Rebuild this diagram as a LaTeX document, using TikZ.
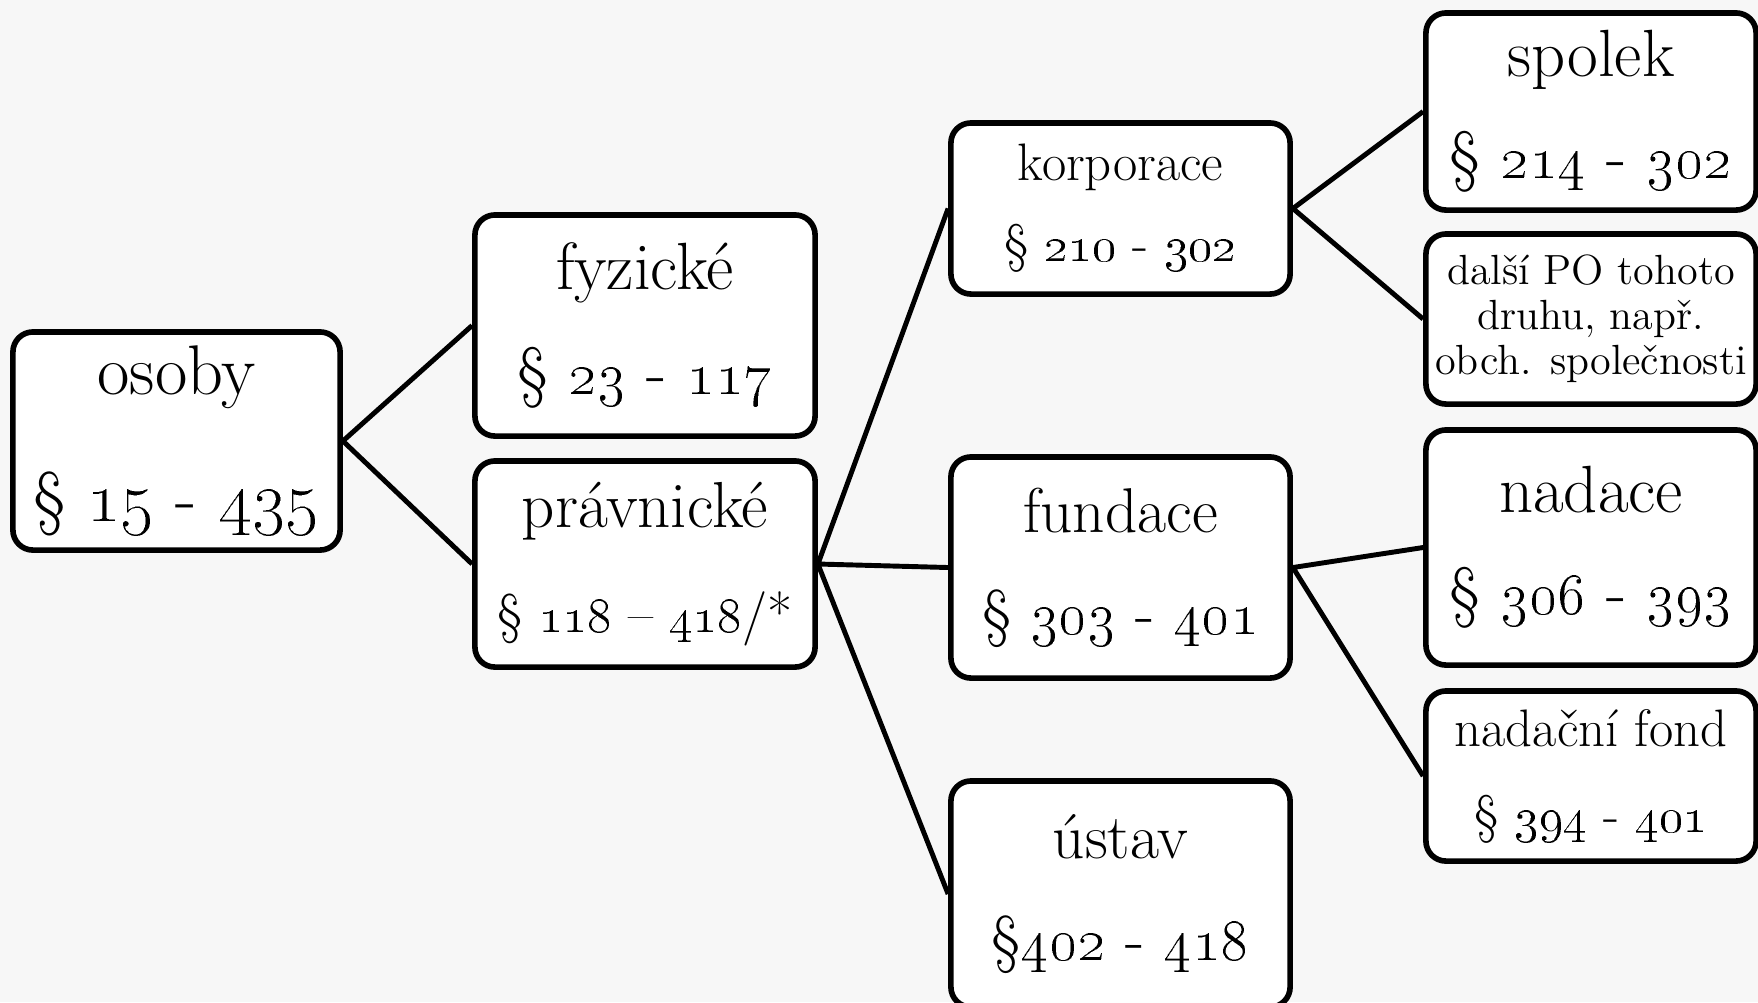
\documentclass[tikz,border=0pt]{standalone}
\usepackage{tikz}
\usetikzlibrary{positioning}
\definecolor{bggray}{RGB}{247,247,247}
\newcommand{\boxfont}[2]{\fontsize{#1}{#2}\selectfont}

\begin{document}
\begin{tikzpicture}[x=0.01cm,y=-0.01cm]
	\tikzstyle{box}=[draw,fill=white,rounded corners=0.2cm,line width=1.6pt,align=center,inner sep=0pt];
	\fill[bggray] (0,0) rectangle (1758,1002);
	\useasboundingbox (0,0) rectangle (1758,1002);
	% first and second level
	\node[box,minimum width=3.27cm,minimum height=2.18cm,font=\boxfont{20}{36}] (osoby) at (176.5,441) {osoby\\§ \oldstylenums{15} - \oldstylenums{435}};
	\node[box,minimum width=3.40cm,minimum height=2.21cm,font=\boxfont{19}{30}] (fyz) at (645,325.5) {fyzické\\§ \oldstylenums{23} - \oldstylenums{117}};
	\node[box,minimum width=3.40cm,minimum height=2.06cm,font=\boxfont{18.5}{30}] (prav) at (645,564) {právnické\\{\boxfont{15.5}{30}§ \oldstylenums{118} – \oldstylenums{418}/*}};
	% kinds of legal persons
	\node[box,minimum width=3.39cm,minimum height=1.71cm,font=\boxfont{15}{23}] (korp) at (1120.5,208.5) {korporace\\§ \oldstylenums{210} - \oldstylenums{302}};
	\node[box,minimum width=3.39cm,minimum height=2.21cm,font=\boxfont{18}{29}] (fund) at (1120.5,567.5) {fundace\\§ \oldstylenums{303} - \oldstylenums{401}};
	\node[box,minimum width=3.39cm,minimum height=2.26cm,font=\boxfont{18}{29}] (ustav) at (1120.5,894) {ústav\\§\oldstylenums{402} - \oldstylenums{418}};
	% last level
	\node[box,minimum width=3.30cm,minimum height=1.97cm,font=\boxfont{19}{29}] (spolek) at (1591,111.5) {spolek\\§ \oldstylenums{214} - \oldstylenums{302}};
	\node[box,minimum width=3.30cm,minimum height=1.70cm,font=\boxfont{12}{12.8}] (dalsi) at (1591,319) {další PO tohoto\\druhu, např.\\obch. společnosti};
	\node[box,minimum width=3.30cm,minimum height=2.35cm,font=\boxfont{19}{29}] (nadace) at (1591,547.5) {nadace\\§ \oldstylenums{306} - \oldstylenums{393}};
	\node[box,minimum width=3.30cm,minimum height=1.70cm,font=\boxfont{15}{24.5}] (fond) at (1591,776) {nadační fond\\§ \oldstylenums{394} - \oldstylenums{401}};
	\draw[line width=1.4pt] (osoby.east) -- (fyz.west)(osoby.east) -- (prav.west);
	\draw[line width=1.4pt] (prav.east) -- (korp.west)(prav.east) -- (fund.west)(prav.east) -- (ustav.west);
	\draw[line width=1.4pt] (korp.east) -- (spolek.west)(korp.east) -- (dalsi.west);
	\draw[line width=1.4pt] (fund.east) -- (nadace.west)(fund.east) -- (fond.west);
\end{tikzpicture}
\end{document}
